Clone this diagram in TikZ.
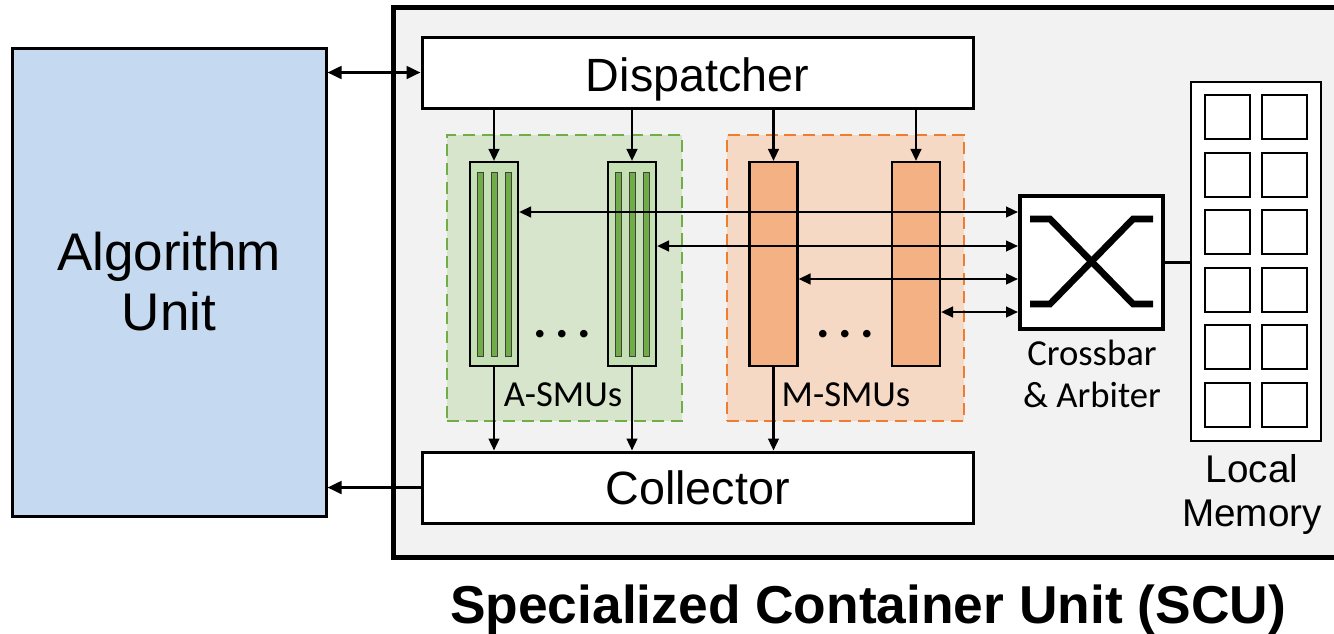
\documentclass[tikz,border=0pt]{standalone}
\usepackage{fontspec}
\setmainfont{Liberation Sans}
\newfontfamily\calibfont{Carlito}
\usetikzlibrary{arrows.meta}
\definecolor{unitblue}{HTML}{C5D9F1}
\definecolor{scugray}{HTML}{F2F2F2}
\definecolor{agroup}{HTML}{D6E5CC}
\definecolor{gline}{HTML}{70AD47}
\definecolor{asmufill}{HTML}{C5E0B4}
\definecolor{mgroup}{HTML}{F5D9C5}
\definecolor{oline}{HTML}{ED7D31}
\definecolor{msmufill}{HTML}{F4B183}
\begin{document}
\begin{tikzpicture}[x=0.75pt,y=-0.75pt,
  box/.style={draw=black, rectangle, inner sep=0pt},
  arr/.style={line width=1.7pt, -{Triangle[length=9pt,width=8pt]}},
  darr/.style={line width=1.7pt, {Triangle[length=9pt,width=8pt]}-{Triangle[length=9pt,width=8pt]}},
  bigarr/.style={line width=2pt, -{Triangle[length=10.5pt,width=9.5pt]}},
  bigdarr/.style={line width=2pt, {Triangle[length=10.5pt,width=9.5pt]}-{Triangle[length=10.5pt,width=9.5pt]}},
  group/.style={rectangle, line width=2.1pt, dash pattern=on 9pt off 5pt, minimum height=214.5pt, inner sep=0pt},
  smu/.style={box, line width=1.6pt, minimum width=36pt, minimum height=153pt},
  bar/.style={draw=black!75, line width=0.6pt, fill=gline},
  cell/.style={draw=black, line width=1.5pt, fill=white},
  label/.style={inner sep=0pt, font=\calibfont\fontsize{27.5}{31.5}\selectfont},
  dots/.style={inner sep=0pt, font=\calibfont\bfseries\fontsize{38}{40}\selectfont},
]
\useasboundingbox (0,0) rectangle (1334,633);

% outer container of the SCU
\node[box, line width=3.75pt, fill=scugray, minimum width=714pt, minimum height=412.5pt] (scu) at (869,282) {};

% algorithm unit
\node[box, line width=2.25pt, fill=unitblue, minimum width=235.5pt, minimum height=351pt,
      align=center, font=\fontsize{39.75}{45}\selectfont] (au) at (169,282) {Algorithm\\Unit};

% dispatcher and collector
\node[box, line width=2.25pt, fill=white, minimum width=413.25pt, minimum height=53.25pt,
      text height=28pt, text depth=0pt, font=\fontsize{35}{40}\selectfont] (disp) at (697.5,72.5) {Dispatcher};
\node[box, line width=2.25pt, fill=white, minimum width=413.25pt, minimum height=53.25pt,
      text height=26pt, text depth=0pt, font=\fontsize{35}{40}\selectfont] (coll) at (697.5,487.5) {Collector};

% SMU groups
\node[group, draw=gline, fill=agroup, minimum width=176.25pt] (ag) at (564.5,278) {};
\node[group, draw=oline, fill=mgroup, minimum width=177.75pt] (mg) at (845.5,278) {};

% A-SMUs with their lanes
\node[smu, fill=asmufill] (a1) at (494,264) {};
\node[smu, fill=asmufill] (a2) at (632,264) {};
\foreach \cx in {494,632}
  \foreach \dx in {-17,-3,11}
    \draw[bar] (\cx+\dx,172) rectangle (\cx+\dx+6.5,356);

% M-SMUs
\node[smu, fill=msmufill] (m1) at (773.5,264) {};
\node[smu, fill=msmufill] (m2) at (916,264) {};

% ellipses and group labels
\node[dots] (adots) at (562,334) {.\,.\,.};
\node[dots] (mdots) at (845,334) {.\,.\,.};
\node[label, anchor=base] (alab) at (563,406) {A-SMUs};
\node[label, anchor=base] (mlab) at (846,406) {M-SMUs};

% crossbar
\node[box, line width=3pt, fill=white, minimum width=107.25pt, minimum height=99.75pt] (xb) at (1091.5,262.5) {};
\draw[line width=5pt] (1030,219) -- (1050,219) -- (1133,304) -- (1153,304);
\draw[line width=5pt] (1030,304) -- (1050,304) -- (1133,219) -- (1153,219);
\node[label, align=center] (xblab) at (1092,374) {Crossbar\\\& Arbiter};

% local memory
\node[box, line width=1.5pt, fill=white, minimum width=97.5pt, minimum height=269.25pt] (mem) at (1256,261.5) {};
\foreach \r in {0,...,5}
  \foreach \cx in {1205,1262}
    \draw[cell] (\cx,95+57.6*\r) rectangle ++(45,44);
\node[inner sep=0pt, align=center, font=\fontsize{29}{33}\selectfont] (memlab) at (1252,494) {Local\\Memory};

% title
\node[inner sep=0pt, anchor=base, font=\bfseries\fontsize{40}{44}\selectfont] (title) at (868,623) {Specialized Container Unit (SCU)};

% connections to the algorithm unit
\draw[bigdarr] (au.east |- disp.west) -- (disp.west);
\draw[bigarr] (coll.west) -- (au.east |- coll.west);

% dispatcher to SMUs
\foreach \s in {a1,a2,m1,m2}
  \draw[arr] (\s |- disp.south) -- (\s.north);
% SMUs to collector
\foreach \s in {a1,a2,m1}
  \draw[arr] (\s.south) -- (\s |- coll.north);

% SMUs to crossbar
\coordinate (ya1) at (0,212);
\coordinate (ya2) at (0,246);
\coordinate (ym1) at (0,279);
\coordinate (ym2) at (0,312);
\draw[darr] (a1.east |- ya1) -- (xb.west |- ya1);
\draw[darr] (a2.east |- ya2) -- (xb.west |- ya2);
\draw[darr] (m1.east |- ym1) -- (xb.west |- ym1);
\draw[darr] (m2.east |- ym2) -- (xb.west |- ym2);

% crossbar to memory
\draw[line width=1.9pt] (xb.east) -- (mem.west |- xb.east);
\end{tikzpicture}
\end{document}
